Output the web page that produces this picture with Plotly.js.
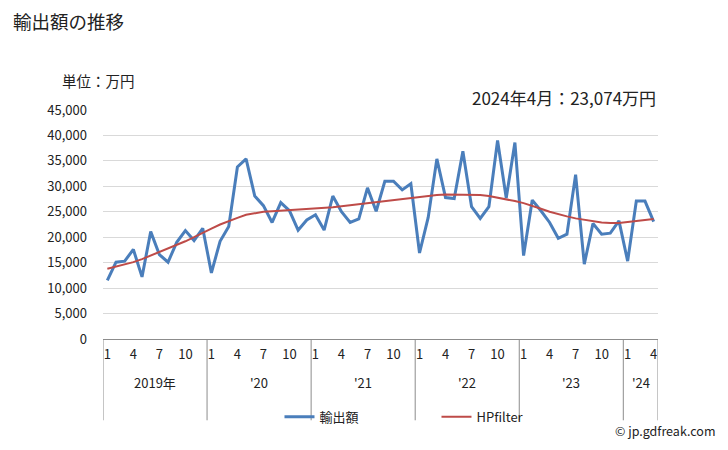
<!DOCTYPE html>
<html><head><meta charset="utf-8">
<script src="https://cdn.plot.ly/plotly-3.0.1.min.js"></script>
<style>html,body{margin:0;padding:0;background:#fff}#chart{width:728px;height:450px}</style>
</head><body><div id="chart"></div>
<script>
// Monthly labels Jan 2019 - Apr 2024
const years = [2019, 2020, 2021, 2022, 2023, 2024];
const yearLabels = ["2019年", "'20", "'21", "'22", "'23", "'24"];
const monthsPerYear = [12, 12, 12, 12, 12, 4];
const monthTickLabels = ["1", "4", "7", "10"];

// 輸出額 (万円)
const exports = [
  11500, 15100, 15300, 17600, 12200, 21100, 16600, 15100, 19000, 21300, 19350, 21750,
  13000, 19200, 22100, 33800, 35400, 28100, 26200, 22900, 26800, 25200, 21400, 23400,
  24400, 21400, 28100, 25000, 22900, 23600, 29700, 25100, 31000, 31000, 29300, 30500,
  16900, 23900, 35400, 27800, 27600, 36900, 26000, 23700, 26000, 39000, 27700, 38600,
  16400, 27300, 25200, 22900, 19800, 20600, 32300, 14700, 22700, 20600, 20800, 23200,
  15300, 27100, 27100, 23074
];
// HPfilter (万円)
const hpFilter = [
  13800, 14200, 14600, 15100, 15700, 16400, 17000, 17700, 18500, 19200, 20000, 20900,
  21700, 22500, 23200, 23800, 24400, 24700, 25000, 25100, 25200, 25300, 25400, 25500,
  25600, 25700, 25900, 26100, 26300, 26500, 26800, 27000, 27200, 27400, 27600, 27800,
  28000, 28200, 28300, 28400, 28400, 28400, 28400, 28300, 28100, 27800, 27500, 27100,
  26700, 26200, 25600, 25000, 24500, 24100, 23700, 23400, 23100, 22900, 22800, 22800,
  23000, 23200, 23400, 23600
];

const xs = exports.map((_, i) => i);
const tickvals = [], ticktext = [];
const shapes = [], annotations = [];
let start = 0;
monthsPerYear.forEach((n, k) => {
  for (let m = 0; m < n; m += 3) { tickvals.push(start + m); ticktext.push(monthTickLabels[m / 3]); }
  shapes.push({type: 'line', xref: 'x', yref: 'paper', x0: start - 0.5, x1: start - 0.5, y0: 0, y1: -0.355,
               line: {color: '#8c8c8c', width: 1}});
  annotations.push({xref: 'x', yref: 'paper', x: start + (n - 1) / 2, y: -0.19, text: yearLabels[k],
                    showarrow: false, font: {size: 13, color: '#222'}, yanchor: 'middle'});
  start += n;
});
shapes.push({type: 'line', xref: 'x', yref: 'paper', x0: start - 0.5, x1: start - 0.5, y0: 0, y1: -0.355,
             line: {color: '#8c8c8c', width: 1}});

annotations.push({xref: 'paper', yref: 'paper', x: -0.077, y: 1.13, xanchor: 'left', yanchor: 'middle',
  text: '単位：万円', showarrow: false, font: {size: 14.5, color: '#222'}});
annotations.push({xref: 'paper', yref: 'paper', x: 1.0, y: 1.055, xanchor: 'right', yanchor: 'middle',
  text: '2024年4月：' + exports[exports.length - 1].toLocaleString('en-US') + '万円', showarrow: false, font: {size: 17, color: '#222'}});
annotations.push({xref: 'paper', yref: 'paper', x: 1.108, y: -0.4, xanchor: 'right', yanchor: 'middle',
  text: '© jp.gdfreak.com', showarrow: false, font: {size: 12.5, color: '#222'}});

const data = [
  {x: xs, y: exports, type: 'scatter', mode: 'lines', name: '輸出額',
   line: {color: '#4a7ebb', width: 3}},
  {x: xs, y: hpFilter, type: 'scatter', mode: 'lines', name: 'HPfilter',
   line: {color: '#be4b48', width: 2}}
];

const layout = {
  width: 728, height: 450,
  margin: {l: 103, r: 70, t: 110, b: 111},
  paper_bgcolor: '#fff', plot_bgcolor: '#fff',
  font: {family: '"Noto Sans CJK JP", "Noto Sans", sans-serif', color: '#222', size: 13},
  title: {text: '輸出額の推移', x: 0.018, xanchor: 'left', y: 0.95, yanchor: 'middle',
          font: {size: 18.5, color: '#222'}},
  xaxis: {range: [-0.5, xs.length - 0.5], tickvals: tickvals, ticktext: ticktext, showgrid: false,
          zeroline: false, showline: true, linecolor: '#8c8c8c', linewidth: 1, ticks: '',
          ticklabelstandoff: 3, tickfont: {size: 13, color: '#222'}, fixedrange: true},
  yaxis: {range: [0, 45000], dtick: 5000, tickformat: ',d', showgrid: true, gridcolor: '#d9d9d9',
          zeroline: false, showline: false, ticks: '', ticklabelstandoff: 15,
          tickfont: {size: 13, color: '#222'}, fixedrange: true},
  showlegend: true,
  legend: {orientation: 'h', x: 0.318, xanchor: 'left', y: -0.34, yanchor: 'middle',
           font: {size: 13, color: '#222'}, entrywidth: 112, entrywidthmode: 'pixels',
           bgcolor: 'rgba(0,0,0,0)'},
  shapes: shapes,
  annotations: annotations
};
Plotly.newPlot('chart', data, layout, {displayModeBar: false, staticPlot: true});
</script></body></html>
